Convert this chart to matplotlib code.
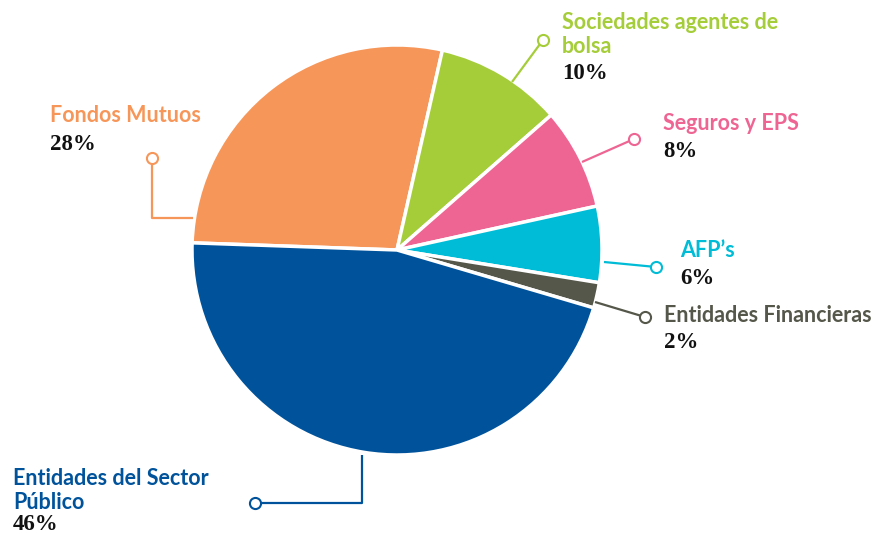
import matplotlib
matplotlib.use("Agg")
import matplotlib.pyplot as plt

# ── data ─────────────────────────────────────────────────────────────────────
labels = ["Fondos Mutuos", "Sociedades agentes de\nbolsa", "Seguros y EPS",
          "AFP\u2019s", "Entidades Financieras", "Entidades del Sector\nP\u00fablico"]
values = [28, 10, 8, 6, 2, 46]
pct_labels = ["28%", "10%", "8%", "6%", "2%", "46%"]
colors = ["#F79659", "#A5CD39", "#EE6594", "#00BCD6", "#55574A", "#00539B"]

W, H = 876, 534
CX, CY, R = 397, 250, 205


def Y(y):
    # pixel row (top-down) -> data y
    return H - y


# leader paths (pixel coords), circle at the last point
leaders = [
    [(193, 218), (152, 218), (152, 158)],
    [(512, 82), (543, 40)],
    [(582, 162), (634, 139)],
    [(604, 262), (656, 267)],
    [(595, 302), (645, 317)],
    [(362, 455), (362, 503), (255, 503)],
]
# text anchor: left x, baseline of last label line, baseline of percentage
text_pos = [
    (50, 122, 150),
    (562, 53, 79),
    (663, 130, 157),
    (680, 257, 284),
    (664, 322, 348),
    (13, 509, 530),
]

fig = plt.figure(figsize=(W / 100, H / 100), dpi=100)
ax = fig.add_axes([0, 0, 1, 1])

ax.pie(values, colors=colors, startangle=178, counterclock=False,
       center=(CX, Y(CY)), radius=R,
       wedgeprops=dict(edgecolor="white", linewidth=2.5))

for lab, pct, col, path, (tx, ty, py) in zip(labels, pct_labels, colors, leaders, text_pos):
    xs = [p[0] for p in path]
    ys = [Y(p[1]) for p in path]
    ax.plot(xs, ys, color=col, lw=1.6, solid_capstyle="butt", zorder=3)
    ax.plot(xs[-1], ys[-1], "o", ms=8, mfc="white", mec=col, mew=1.5, zorder=4)
    ax.text(tx, Y(ty), lab, color=col, fontsize=15.5, fontweight="bold",
            family="Lato", ha="left", va="baseline", linespacing=1.15)
    ax.text(tx, Y(py), pct, color="#111111", fontsize=16.5, fontweight="bold",
            family="Liberation Serif", ha="left", va="baseline")

ax.set_xlim(0, W)
ax.set_ylim(0, H)
ax.set_aspect("equal")
ax.axis("off")

fig.savefig("out.png", dpi=100)
